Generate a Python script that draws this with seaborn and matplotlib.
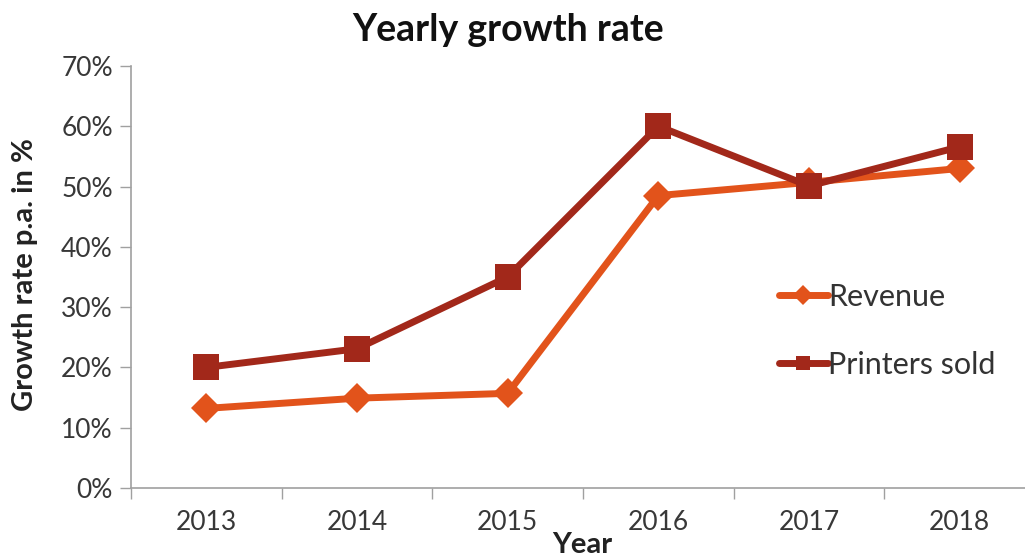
import matplotlib
matplotlib.use("Agg")
import matplotlib.pyplot as plt
import seaborn as sns
import pandas as pd
from matplotlib.ticker import PercentFormatter, FixedLocator

years = ["2013", "2014", "2015", "2016", "2017", "2018"]
revenue = [13.2, 14.9, 15.7, 48.5, 50.7, 53.0]
printers_sold = [20.0, 23.1, 35.0, 60.0, 50.1, 56.6]
series_names = ["Revenue", "Printers sold"]

df = pd.DataFrame({
    "Year": list(range(len(years))) * 2,
    "Value": revenue + printers_sold,
    "Series": [series_names[0]] * len(years) + [series_names[1]] * len(years),
})

sns.set_theme(style="white")
plt.rcParams['font.family'] = ['Lato', 'DejaVu Sans']

fig = plt.figure(figsize=(10.25, 5.59), dpi=100)
ax = fig.add_axes([0.1278, 0.127, 0.882, 0.755])

palette = {"Revenue": "#E2531B", "Printers sold": "#A2281A"}
sns.lineplot(data=df, x="Year", y="Value", hue="Series", style="Series",
             markers={"Revenue": "D", "Printers sold": "s"}, dashes=False,
             palette=palette, linewidth=5, markersize=15, markeredgewidth=0,
             ax=ax)
for ln in ax.lines:
    if ln.get_marker() == "s":
        ln.set_markersize(19)

ax.set_xlim(-0.5, 5.5)
ax.set_ylim(0, 70)
ax.set_yticks(range(0, 71, 10))
ax.yaxis.set_major_formatter(PercentFormatter(decimals=0))
ax.set_xticks(range(len(years)))
ax.set_xticklabels(years)
ax.xaxis.set_minor_locator(FixedLocator([i - 0.5 for i in range(len(years) + 1)]))
ax.tick_params(axis="x", which="major", length=0, pad=16, labelsize=19, labelcolor="#383838")
ax.tick_params(axis="x", which="minor", length=8, width=1, color="#A0A0A0", direction="out", bottom=True)
ax.tick_params(axis="y", length=8, width=1, color="#A0A0A0", direction="out", left=True,
               labelsize=19, labelcolor="#383838", pad=5)

for s in ["top", "right"]:
    ax.spines[s].set_visible(False)
for s in ["left", "bottom"]:
    ax.spines[s].set_color("#A0A0A0")
    ax.spines[s].set_linewidth(1.2)

ax.set_xlabel("Year", fontsize=21, fontweight="bold", color="#222222")
ax.xaxis.set_label_coords(0.499, -0.105)
ax.set_ylabel("Growth rate p.a. in %", fontsize=21, fontweight="bold", color="#222222")
ax.yaxis.set_label_coords(-0.103, 0.505)
fig.text(0.496, 0.946, "Yearly growth rate", ha="center", va="center",
         fontsize=27, fontweight="bold", color="#111111")

leg = ax.legend(loc="center left", bbox_to_anchor=(0.745, 0.408), bbox_transform=fig.transFigure,
                frameon=False, borderpad=0, fontsize=22, handlelength=1.6, handletextpad=0.0,
                labelspacing=1.3, labelcolor="#333333")
for h in leg.legend_handles:
    h.set_markersize(10)

fig.savefig("out.png", dpi=100)
